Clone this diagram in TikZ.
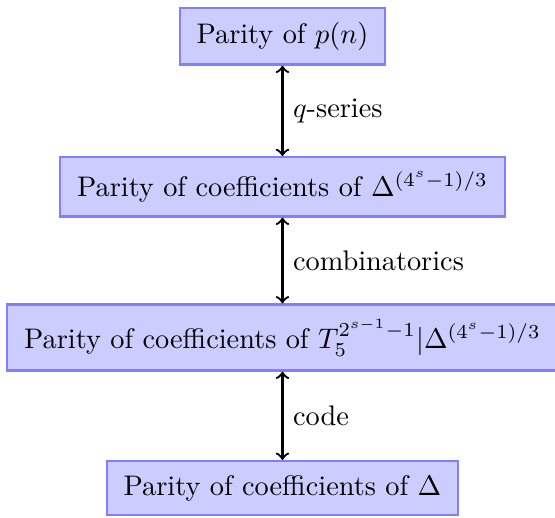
\documentclass[tikz,border=0pt]{standalone}
\usetikzlibrary{positioning,calc}

\begin{document}
\begin{tikzpicture}[
  box/.style={draw=blue!50, fill=blue!20, thick, inner xsep=6pt, inner ysep=5pt}
]

\node[box] (pn) at (0,0) {Parity of $p(n)$};
\node[box] (delta) at (0,-1.87) {Parity of coefficients of $\Delta^{(4^s-1)/3}$};
\node[box] (hecke) at (0,-3.74) {Parity of coefficients of $T_5^{2^{s-1}-1}|\Delta^{(4^s-1)/3}$};
\node[box] (base) at (0,-5.61) {Parity of coefficients of $\Delta$};

\draw[<->, thick] (pn) -- (delta) node[midway, right]{$q$-series};
\draw[<->, thick] (delta) -- (hecke) node[midway, right]{combinatorics};
\draw[<->, thick] (hecke) -- (base) node[midway, right]{code};

% frame as in the original: shifted a little to the left
\coordinate (lft) at ($(hecke.west)!-0.011!(hecke.east)$);
\coordinate (rgt) at ($(hecke.west)!0.993!(hecke.east)$);
\coordinate (tl) at ([yshift=2.4pt]lft |- pn.north);
\coordinate (br) at ([yshift=-0.4pt]rgt |- base.south);
\pgfresetboundingbox
\useasboundingbox (tl) rectangle (br);

\end{tikzpicture}
\end{document}
